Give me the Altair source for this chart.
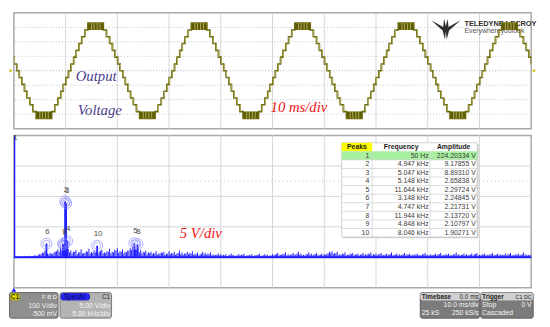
import altair as alt
import pandas as pd

# ---------------- time-domain trace (10 ms/div, 100 V/div) ----------------
PERIOD_MS = 20.0
FIRST_RISING_ZERO_MS = 10.8
LEVEL_STEP_V = 47.0
RISE_EDGES_MS = [0.25, 0.75, 1.25, 1.75, 2.3, 2.9]   # level 1..6 begins (after rising zero)
PEAK_BLOCK_MS = [3.5, 6.5]                          # switching between level 6 and 7
PEAK_STRIPES_MS = [4.2, 4.7, 5.3, 5.85]
EDGE_HALF_MS = 0.13

# ---------------- spectrum (5 kHz/div, 5 V/div) ----------------
PEAK_ID = [1, 2, 3, 4, 5, 6, 7, 8, 9, 10]
PEAK_HZ = [50, 4947, 5047, 5148, 11644, 3148, 4747, 11944, 4848, 8046]
PEAK_V = [224.20334, 9.17855, 8.89310, 2.65838, 2.29724, 2.24845, 2.21731, 2.13720, 2.10797, 1.90271]
NOISE_BIN_HZ = 250
NOISE_V = [
    0.12, 0.10, 0.15, 0.20, 0.12, 0.25, 0.18, 0.30, 0.22, 0.55, 0.80, 1.10, 0.60, 0.70, 0.50, 0.90, 1.30, 1.60, 1.20, 1.70,
    1.40, 1.10, 0.90, 1.20, 0.80, 1.30, 0.70, 1.00, 1.40, 0.90, 1.10, 1.30, 0.90, 1.20, 0.80, 1.00, 1.40, 0.90, 1.20, 1.50,
    1.00, 1.30, 0.90, 1.10, 1.50, 1.70, 1.30, 1.60, 1.20, 0.90, 1.10, 0.80, 0.90, 0.70, 1.00, 0.60, 0.80, 0.90, 0.60, 1.00,
    0.70, 0.90, 0.60, 1.10, 0.80, 0.60, 0.90, 0.70, 1.00, 0.60, 0.80, 0.50, 0.90, 0.70, 0.60, 0.80, 0.50, 0.40, 0.60, 0.50,
    0.40, 0.50, 0.30, 0.60, 0.40, 0.30, 0.50, 0.40, 0.60, 0.30, 0.40, 0.50, 0.30, 0.40, 0.60, 0.30, 0.50, 0.40, 0.30, 0.50,
    0.50, 0.70, 0.40, 0.60, 0.80, 0.50, 0.40, 0.70, 0.50, 0.90, 0.60, 0.40, 0.50, 0.80, 0.60, 0.50, 0.70, 0.40, 0.60, 0.50,
    0.60, 0.90, 1.00, 0.70, 0.90, 0.50, 0.60, 0.80, 0.40, 0.60, 0.70, 0.50, 0.60, 0.40, 0.70, 0.50, 0.60, 0.80, 0.50, 0.60,
    0.50, 0.70, 0.40, 0.60, 0.50, 0.80, 0.40, 0.60, 0.50, 0.40, 0.70, 0.50, 0.60, 0.40, 0.50, 0.60, 0.40, 0.50, 0.70, 0.40,
    0.50, 0.40, 0.60, 0.50, 0.70, 0.40, 0.50, 0.60, 0.40, 0.50, 0.80, 0.50, 0.40, 0.60, 0.50, 0.40, 0.60, 0.50, 0.70, 0.40,
    0.50, 0.60, 0.40, 0.50, 0.70, 0.40, 0.60, 0.50, 0.40, 0.60, 0.50, 0.70, 0.40, 0.50, 0.60, 0.40, 0.80, 0.50, 0.40, 0.50,
]
# bins half-way between the ones above (125 Hz, 375 Hz, ...)
NOISE_V_MID = [
    0.08, 0.10, 0.12, 0.10, 0.15, 0.12, 0.20, 0.15, 0.30, 0.40, 0.50, 0.70, 0.40, 0.50, 0.60, 0.80, 1.00, 0.90, 1.10, 1.30,
    1.00, 0.80, 0.60, 0.90, 0.50, 0.80, 0.60, 0.70, 0.90, 0.60, 0.70, 0.80, 0.60, 1.00, 0.60, 0.70, 0.90, 0.60, 0.80, 1.10,
    0.70, 0.90, 0.60, 0.80, 1.10, 1.20, 1.00, 1.30, 0.80, 0.60, 0.80, 0.50, 0.70, 0.50, 0.60, 0.40, 0.60, 0.70, 0.40, 0.60,
    0.50, 0.60, 0.40, 0.70, 0.50, 0.40, 0.60, 0.50, 0.60, 0.40, 0.50, 0.30, 0.60, 0.50, 0.40, 0.50, 0.30, 0.30, 0.40, 0.30,
    0.30, 0.30, 0.20, 0.40, 0.30, 0.20, 0.30, 0.30, 0.40, 0.20, 0.30, 0.30, 0.20, 0.30, 0.40, 0.20, 0.30, 0.30, 0.20, 0.30,
    0.30, 0.50, 0.30, 0.40, 0.50, 0.30, 0.30, 0.50, 0.30, 0.60, 0.40, 0.30, 0.30, 0.50, 0.40, 0.30, 0.50, 0.30, 0.40, 0.30,
    0.40, 0.60, 0.70, 0.50, 0.60, 0.30, 0.40, 0.50, 0.30, 0.40, 0.50, 0.30, 0.40, 0.30, 0.50, 0.30, 0.40, 0.50, 0.30, 0.40,
    0.30, 0.50, 0.30, 0.40, 0.30, 0.50, 0.30, 0.40, 0.30, 0.30, 0.50, 0.30, 0.40, 0.30, 0.30, 0.40, 0.30, 0.30, 0.50, 0.30,
    0.30, 0.30, 0.40, 0.30, 0.50, 0.30, 0.30, 0.40, 0.30, 0.30, 0.50, 0.30, 0.30, 0.40, 0.30, 0.30, 0.40, 0.30, 0.50, 0.30,
    0.30, 0.40, 0.30, 0.30, 0.50, 0.30, 0.40, 0.30, 0.30, 0.40, 0.30, 0.50, 0.30, 0.30, 0.40, 0.30, 0.50, 0.30, 0.30, 0.30,
]

TIME_GRID_MS = list(range(0, 101, 10))
VOLT_GRID_V = [-300, -200, -100, 100, 200, 300]
FREQ_GRID_HZ = list(range(0, 50001, 5000))
AMP_GRID_V = [0, 5, 10, 15]

# ---------------- colours / fonts ----------------
OLIVE_DARK = "#5c5900"
OLIVE_LINE = "#6a6706"
OLIVE_LIGHT = "#c3c07c"
BLUE = "#1f1fff"
GRID = "#d6d6d6"
FRAME = "#a9a9a9"
SANS = "Liberation Sans"
SERIF = "Liberation Serif"

# ---------------- build the time trace tables ----------------
half_t = [0.0] + RISE_EDGES_MS + PEAK_BLOCK_MS + [PERIOD_MS / 2 - t for t in reversed(RISE_EDGES_MS)]
half_lv = [0, 1, 2, 3, 4, 5, 6, 7, 6, 5, 4, 3, 2, 1, 0]
steps, blocks, stripes = [], [], []
for k in range(-1, 5):
    base = FIRST_RISING_ZERO_MS + k * PERIOD_MS
    for sign, off in [(1, 0.0), (-1, PERIOD_MS / 2)]:
        b = base + off
        for t, lv in zip(half_t, half_lv):
            steps.append({"t": b + t, "v": sign * lv * LEVEL_STEP_V})
        for i, t in enumerate(RISE_EDGES_MS):
            lv = i + 1
            for tc in (t, PERIOD_MS / 2 - t):
                blocks.append({"t0": b + tc - EDGE_HALF_MS, "t1": b + tc + EDGE_HALF_MS,
                               "v0": sign * (lv - 1) * LEVEL_STEP_V, "v1": sign * lv * LEVEL_STEP_V})
                stripes.append({"t": b + tc + 0.06, "v0": sign * (lv - 1) * LEVEL_STEP_V,
                                "v1": sign * lv * LEVEL_STEP_V})
        blocks.append({"t0": b + PEAK_BLOCK_MS[0], "t1": b + PEAK_BLOCK_MS[1],
                       "v0": sign * 6 * LEVEL_STEP_V, "v1": sign * 7 * LEVEL_STEP_V})
        for ts in PEAK_STRIPES_MS:
            stripes.append({"t": b + ts, "v0": sign * 6 * LEVEL_STEP_V, "v1": sign * 7 * LEVEL_STEP_V})
steps_df = pd.DataFrame(steps)
blocks_df = pd.DataFrame(blocks)
stripes_df = pd.DataFrame(stripes)

XT = alt.Scale(domain=[0, 100], nice=False, zero=False)
YT = alt.Scale(domain=[-400, 400], nice=False, zero=False)


def xt(f):
    return alt.X(f, type="quantitative", scale=XT, axis=None)


def yt(f):
    return alt.Y(f, type="quantitative", scale=YT, axis=None)


top_layers = [
    alt.Chart(pd.DataFrame({"t0": [0], "t1": [100], "v0": [-400], "v1": [400]})).mark_rect(
        fillOpacity=0, stroke=FRAME, strokeWidth=1.5).encode(x=xt("t0"), x2="t1:Q", y=yt("v0"), y2="v1:Q"),
    alt.Chart(pd.DataFrame({"t": TIME_GRID_MS[1:-1]})).mark_rule(color=GRID, strokeWidth=1).encode(x=xt("t")),
    alt.Chart(pd.DataFrame({"v": VOLT_GRID_V})).mark_rule(color="#c2c2c2", strokeWidth=1, strokeDash=[1, 2]).encode(y=yt("v")),
    alt.Chart(pd.DataFrame({"v": [0]})).mark_rule(color="#b0b0b0", strokeWidth=1, strokeDash=[1, 2]).encode(y=yt("v")),
    # logo
    alt.Chart(pd.DataFrame({"t": [83.5], "v": [298]})).mark_point(
        shape="M-1,-0.5 L-0.18,-0.05 L-0.12,-0.6 L0,-0.1 L0.12,-0.6 L0.18,-0.05 L1,-0.5 L0.22,0.2 L0.06,0.8 L0,0.25 L-0.06,0.8 L-0.22,0.2 Z",
        size=900, filled=True, color="#2e2e2e", opacity=1).encode(x=xt("t"), y=yt("v")),
    alt.Chart(pd.DataFrame({"t": [87.1], "v": [322], "s": ["TELEDYNE LECROY"]})).mark_text(
        align="left", baseline="middle", font=SANS, fontWeight="bold", fontSize=7.5, color="#2e2e2e").encode(
        x=xt("t"), y=yt("v"), text="s:N"),
    alt.Chart(pd.DataFrame({"t": [87.1], "v": [274], "s": ["Everywhereyoulook"]})).mark_text(
        align="left", baseline="middle", font=SANS, fontSize=7, color="#555555").encode(
        x=xt("t"), y=yt("v"), text="s:N"),
    # trace
    alt.Chart(blocks_df).mark_rect(color=OLIVE_DARK, clip=True).encode(x=xt("t0"), x2="t1:Q", y=yt("v0"), y2="v1:Q"),
    alt.Chart(steps_df).mark_line(interpolate="step-after", color=OLIVE_LINE, strokeWidth=1.6, clip=True).encode(
        x=xt("t"), y=yt("v"), order="t:Q"),
    alt.Chart(stripes_df).mark_rule(color=OLIVE_LIGHT, strokeWidth=0.8, clip=True).encode(x=xt("t"), y=yt("v0"), y2="v1:Q"),
    # annotations
    alt.Chart(pd.DataFrame({"t": [15.9, 16.6], "v": [-34, -275], "s": ["Output", "Voltage"]})).mark_text(
        font=SERIF, fontStyle="italic", fontSize=15, color="#4b3d8f", baseline="middle").encode(
        x=xt("t"), y=yt("v"), text="s:N"),
    alt.Chart(pd.DataFrame({"t": [55.1], "v": [-251], "s": ["10 ms/div"]})).mark_text(
        font=SERIF, fontStyle="italic", fontSize=15, color="#f01414", baseline="middle").encode(
        x=xt("t"), y=yt("v"), text="s:N"),
    # channel markers
    alt.Chart(pd.DataFrame({"t": [-0.55], "v": [0]})).mark_point(shape="triangle-right", size=14, filled=True,
                                                                  color="#d2c000", opacity=1).encode(x=xt("t"), y=yt("v")),
    alt.Chart(pd.DataFrame({"t": [100.45], "v": [0]})).mark_point(shape="triangle-left", size=14, filled=True,
                                                                   color="#d2c000", opacity=1).encode(x=xt("t"), y=yt("v")),
]
top = alt.layer(*top_layers).properties(width=527, height=118)

# ---------------- spectrum panel ----------------
XS = alt.Scale(domain=[0, 50000], nice=False, zero=False)
YS = alt.Scale(domain=[-5, 20], nice=False, zero=False)


def xs(f):
    return alt.X(f, type="quantitative", scale=XS, axis=None)


def ys(f):
    return alt.Y(f, type="quantitative", scale=YS, axis=None)


noise_df = pd.concat([
    pd.DataFrame({"f": [(i + 1) * NOISE_BIN_HZ for i in range(len(NOISE_V))], "a": NOISE_V}),
    pd.DataFrame({"f": [(i + 0.5) * NOISE_BIN_HZ for i in range(len(NOISE_V_MID))], "a": NOISE_V_MID}),
], ignore_index=True)
noise_df["z"] = 0.0
peaks_df = pd.DataFrame({"id": PEAK_ID, "f": PEAK_HZ, "a": PEAK_V, "z": 0.0})
peaks_df["lab"] = peaks_df["id"].astype(str)

spec_layers = [
    alt.Chart(pd.DataFrame({"f0": [0], "f1": [50000], "a0": [-5], "a1": [20]})).mark_rect(
        fillOpacity=0, stroke=FRAME, strokeWidth=1.5).encode(x=xs("f0"), x2="f1:Q", y=ys("a0"), y2="a1:Q"),
    alt.Chart(pd.DataFrame({"f": FREQ_GRID_HZ[1:-1]})).mark_rule(color=GRID, strokeWidth=1).encode(x=xs("f")),
    alt.Chart(pd.DataFrame({"a": AMP_GRID_V})).mark_rule(color=GRID, strokeWidth=1).encode(y=ys("a")),
    alt.Chart(pd.DataFrame({"a": [12.5]})).mark_rule(color="#b8b8b8", strokeWidth=1, strokeDash=[1, 3]).encode(y=ys("a")),
    alt.Chart(noise_df).mark_rule(color=BLUE, strokeWidth=1, clip=True).encode(x=xs("f"), y=ys("a"), y2="z:Q"),
    alt.Chart(pd.DataFrame({"a": [0]})).mark_rule(color=BLUE, strokeWidth=2).encode(y=ys("a")),
    alt.Chart(peaks_df).mark_rule(color=BLUE, strokeWidth=1.8, clip=True).encode(x=xs("f"), y=ys("a"), y2="z:Q"),
    alt.Chart(peaks_df).mark_point(shape="circle", size=125, filled=False, color="#8080ff", strokeWidth=0.9,
                                   clip=True).encode(x=xs("f"), y=ys("a")),
    alt.Chart(peaks_df).mark_point(shape="circle", size=50, filled=False, color="#8080ff", strokeWidth=0.9,
                                   clip=True).encode(x=xs("f"), y=ys("a")),
    alt.Chart(peaks_df).transform_calculate(ly="min(datum.a, 17.6)").mark_text(
        font=SANS, fontSize=8, color="#4a4a4a", dy=-12, dx=1, baseline="middle").encode(
        x=xs("f"), y=ys("ly"), text="lab:N"),
    alt.Chart(pd.DataFrame({"f": [18070], "a": [3.95], "s": ["5 V/div"]})).mark_text(
        font=SERIF, fontStyle="italic", fontSize=15, color="#f01414", baseline="middle").encode(
        x=xs("f"), y=ys("a"), text="s:N"),
    alt.Chart(pd.DataFrame({"f": [0], "a": [-5.35]})).mark_point(shape="triangle-up", size=22, filled=True,
                                                                 color=BLUE, opacity=1).encode(x=xs("f"), y=ys("a")),
]
spectrum = alt.layer(*spec_layers)

# ---------------- peak table (drawn in the spectrum panel) ----------------
ROW0_Y = 144.7
ROW_H = 8.73
PANEL_TOP, PANEL_BOT = 133.0, 288.0
XTAB = alt.Scale(domain=[13, 540], nice=False, zero=False)
YTAB = alt.Scale(domain=[(PANEL_TOP - ROW0_Y) / ROW_H, (PANEL_BOT - ROW0_Y) / ROW_H], nice=False, zero=False,
                 reverse=True)
T_LEFT, C1, C2, T_RIGHT = 347, 378, 437, 485


def xb(f):
    return alt.X(f, type="quantitative", scale=XTAB, axis=None)


def yb(f):
    return alt.Y(f, type="quantitative", scale=YTAB, axis=None)


n = len(PEAK_ID)
freq_txt = [f"{h} Hz" if h < 1000 else f"{h / 1000:.3f} kHz" for h in PEAK_HZ]
amp_txt = [f"{v:.5f} V" for v in PEAK_V]
rows_df = pd.DataFrame({"r": list(range(1, n + 1)), "pk": [str(i) for i in PEAK_ID], "fq": freq_txt, "am": amp_txt})
rows_df["r0"] = rows_df["r"] - 0.5
rows_df["r1"] = rows_df["r"] + 0.5

table_layers = [
    alt.Chart(pd.DataFrame({"x0": [T_LEFT + 1.5], "x1": [T_RIGHT + 1.5], "y0": [-0.35], "y1": [n + 0.65]})).mark_rect(
        color="#d4d4d4").encode(x=xb("x0"), x2="x1:Q", y=yb("y0"), y2="y1:Q"),
    alt.Chart(pd.DataFrame({"x0": [T_LEFT], "x1": [T_RIGHT], "y0": [-0.5], "y1": [n + 0.5]})).mark_rect(
        color="#ffffff", stroke="#c4c4c4", strokeWidth=0.8).encode(x=xb("x0"), x2="x1:Q", y=yb("y0"), y2="y1:Q"),
    alt.Chart(pd.DataFrame({"x0": [T_LEFT], "x1": [C1], "y0": [-0.5], "y1": [0.5]})).mark_rect(
        color="#ffff00").encode(x=xb("x0"), x2="x1:Q", y=yb("y0"), y2="y1:Q"),
    alt.Chart(pd.DataFrame({"x0": [T_LEFT], "x1": [T_RIGHT], "y0": [0.5], "y1": [1.5]})).mark_rect(
        color="#a8f0a0").encode(x=xb("x0"), x2="x1:Q", y=yb("y0"), y2="y1:Q"),
    alt.Chart(rows_df).transform_filter("datum.r < 10").mark_rule(color="#d2d2d2", strokeWidth=0.8).encode(
        x=alt.value(T_LEFT - 13), x2=alt.value(T_RIGHT - 13), y=yb("r1")),
    alt.Chart(pd.DataFrame({"x": [C1, C2], "y0": [0.5, 0.5], "y1": [n + 0.5, n + 0.5]})).mark_rule(
        color="#d2d2d2", strokeWidth=0.8).encode(x=xb("x"), y=yb("y0"), y2="y1:Q"),
    alt.Chart(pd.DataFrame({"x": [362.5, 407.5, 461], "y": [0, 0, 0], "s": ["Peaks", "Frequency", "Amplitude"]})).mark_text(
        font=SANS, fontSize=7, fontWeight="bold", color="#1a1a1a", baseline="middle").encode(
        x=xb("x"), y=yb("y"), text="s:N"),
    alt.Chart(rows_df).mark_text(font=SANS, fontSize=7, color="#3a3a3a", align="right", baseline="middle").encode(
        x=alt.value(375 - 13), y=yb("r"), text="pk:N"),
    alt.Chart(rows_df).mark_text(font=SANS, fontSize=7, color="#3a3a3a", align="right", baseline="middle").encode(
        x=alt.value(435.5 - 13), y=yb("r"), text="fq:N"),
    alt.Chart(rows_df).mark_text(font=SANS, fontSize=7, color="#3a3a3a", align="right", baseline="middle").encode(
        x=alt.value(483.5 - 13), y=yb("r"), text="am:N"),
]
table = alt.layer(*table_layers)

middle = alt.layer(spectrum, table).resolve_scale(x="independent", y="independent").properties(width=527, height=155)

# ---------------- status boxes ----------------
STATUS_TOP = 295.0
XST = alt.Scale(domain=[13, 540], nice=False, zero=False)
YST = alt.Scale(domain=[STATUS_TOP, 319], nice=False, zero=False, reverse=True)


def xq(f):
    return alt.X(f, type="quantitative", scale=XST, axis=None)


def yq(f):
    return alt.Y(f, type="quantitative", scale=YST, axis=None)


BOXES = pd.DataFrame([
    {"x0": 8.5, "x1": 58, "y0": 293, "y1": 319, "fill": "#8f8f8f", "st": "#686868"},
    {"x0": 60, "x1": 112.5, "y0": 293, "y1": 319, "fill": "#b4b4b4", "st": "#7c7c7c"},
    {"x0": 427, "x1": 487.5, "y0": 293, "y1": 319, "fill": "#7b7b7b", "st": "#5e5e5e"},
    {"x0": 488.5, "x1": 542, "y0": 293, "y1": 319, "fill": "#7b7b7b", "st": "#5e5e5e"},
    {"x0": 427.5, "x1": 487, "y0": 293.5, "y1": 300.5, "fill": "#cfcfcf", "st": "#cfcfcf"},
    {"x0": 489, "x1": 541.5, "y0": 293.5, "y1": 300.5, "fill": "#cfcfcf", "st": "#cfcfcf"},
    {"x0": 9.5, "x1": 18.5, "y0": 294, "y1": 300.5, "fill": "#e4e000", "st": "#a8a400"},
    {"x0": 61, "x1": 90, "y0": 294, "y1": 300.5, "fill": "#2a2aff", "st": "#2020c0"},
])
STATUS_TEXT = [
    (14, 297.3, "C1", "center", "bold", 6.5, "#333300"),
    (57, 297.5, "F B D", "right", "normal", 6, "#f2f2f2"),
    (57, 306.5, "100 V/div", "right", "normal", 7, "#f2f2f2"),
    (57, 314.5, "-500 mV", "right", "normal", 7, "#f2f2f2"),
    (75.5, 297.3, "SpecAn", "center", "normal", 6.5, "#000040"),
    (111, 297.5, "C1", "right", "normal", 6.5, "#262626"),
    (111, 306.5, "5.00 V/div", "right", "normal", 7, "#f6f6f6"),
    (111, 314.5, "5.00 kHz/div", "right", "normal", 7, "#f6f6f6"),
    (428.5, 297, "Timebase", "left", "bold", 6.5, "#1e1e1e"),
    (486.5, 297, "0.0 ms", "right", "normal", 6.5, "#1e1e1e"),
    (486.5, 306, "10.0 ms/div", "right", "normal", 7, "#f4f4f4"),
    (428.5, 314, "25 kS", "left", "normal", 7, "#f4f4f4"),
    (486.5, 314, "250 kS/s", "right", "normal", 7, "#f4f4f4"),
    (490, 297, "Trigger", "left", "bold", 6.5, "#1e1e1e"),
    (540.5, 297, "C1 DC", "right", "normal", 5.5, "#1e1e1e"),
    (490, 306, "Stop", "left", "normal", 7, "#f4f4f4"),
    (540.5, 306, "0 V", "right", "normal", 7, "#f4f4f4"),
    (490, 314, "Cascaded", "left", "normal", 7, "#f4f4f4"),
]
st_df = pd.DataFrame(STATUS_TEXT, columns=["x", "y", "s", "al", "w", "fs", "c"])

status_layers = [
    alt.Chart(BOXES).mark_rect(cornerRadius=2, strokeWidth=1).encode(
        x=xq("x0"), x2="x1:Q", y=yq("y0"), y2="y1:Q",
        fill=alt.Fill("fill:N", scale=None), stroke=alt.Stroke("st:N", scale=None)),
]
for (al, w, fs), g in st_df.groupby(["al", "w", "fs"]):
    status_layers.append(
        alt.Chart(g.reset_index(drop=True)).mark_text(
            align=al, fontWeight=w, fontSize=float(fs), font=SANS, baseline="middle").encode(
            x=xq("x"), y=yq("y"), text="s:N", color=alt.Color("c:N", scale=None)))
status = alt.layer(*status_layers).properties(width=527, height=24)

chart = alt.vconcat(top, middle, status, spacing=7, bounds="flush").properties(
    padding={"left": 0, "top": 0, "right": 5, "bottom": 0}
).configure_view(stroke="transparent")

chart.save("out.html", embed_options={"renderer": "svg", "actions": False})
